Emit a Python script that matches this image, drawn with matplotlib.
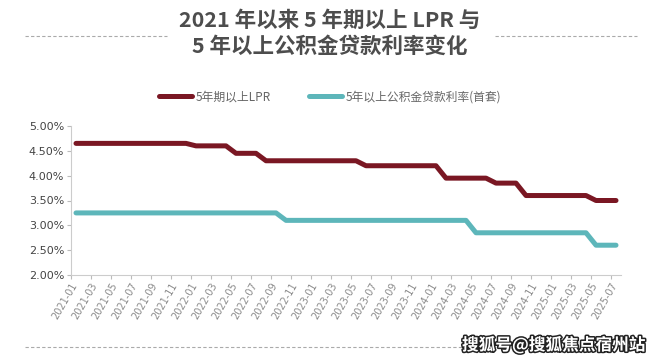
import matplotlib
matplotlib.use("Agg")
import matplotlib.pyplot as plt
import matplotlib.patheffects as pe
from matplotlib.lines import Line2D

plt.rcParams['font.family'] = ['Noto Sans CJK SC', 'DejaVu Sans']

months = [f"{y}-{m:02d}" for y in range(2021, 2026) for m in range(1, 13)][:55]

lpr = ([4.65] * 12 + [4.60] * 4 + [4.45] * 3 + [4.30] * 10 + [4.20] * 8 +
       [3.95] * 5 + [3.85] * 3 + [3.60] * 7 + [3.50] * 3)
hpf = ([3.25] * 21 + [3.10] * 19 + [2.85] * 12 + [2.60] * 3)

yticks = [2.0, 2.5, 3.0, 3.5, 4.0, 4.5, 5.0]
ytick_labels = [f"{v:.2f}%" for v in yticks]
xtick_idx = list(range(0, 55, 2))
xtick_labels = [months[i] for i in xtick_idx]

title_lines = ["2021 年以来 5 年期以上 LPR 与", "5 年以上公积金贷款利率变化"]
series_names = ["5年期以上LPR", "5年以上公积金贷款利率(首套)"]
red = "#7A1723"
teal = "#5DB6BA"

fig = plt.figure(figsize=(6.6, 3.6), dpi=100)
ax = fig.add_axes([71/660, 1-275/360, 550/660, 149/360])

x = [i + 0.5 for i in range(len(months))]
l1, = ax.plot(x, lpr, color=red, lw=3.6, solid_capstyle='round', solid_joinstyle='round')
l2, = ax.plot(x, hpf, color=teal, lw=3.6, solid_capstyle='round', solid_joinstyle='round')

ax.set_xlim(0, 55)
ax.set_ylim(2, 5)
ax.set_yticks(yticks)
ax.set_yticklabels(ytick_labels, fontsize=8, color="#444444", family=['DejaVu Sans'])
ax.set_xticks(xtick_idx)
ax.set_xticklabels(xtick_labels, rotation=60, ha='right', rotation_mode='anchor',
                   fontsize=7, color="#8a8a8a", family=['DejaVu Sans'])
for s in ['top', 'right']:
    ax.spines[s].set_visible(False)
for s in ['left', 'bottom']:
    ax.spines[s].set_color("#cccccc")
    ax.spines[s].set_linewidth(0.8)
ax.tick_params(axis='both', colors="#bbbbbb", length=3, width=0.8)
ax.tick_params(axis='y', labelcolor="#444444", pad=2)
ax.tick_params(axis='x', labelcolor="#8a8a8a", pad=1)

# title
fig.text(0.5, 1-20/360, title_lines[0], ha='center', va='center', fontsize=15.5,
         fontweight='bold', color="#4d4d4d")
fig.text(0.5, 1-46/360, title_lines[1], ha='center', va='center', fontsize=15.5,
         fontweight='bold', color="#4d4d4d")
dash = dict(color="#aaaaaa", lw=0.8, ls=(0, (3, 2)), transform=fig.transFigure)
fig.add_artist(Line2D([25/660, 167/660], [1-36/360]*2, **dash))
fig.add_artist(Line2D([495/660, 637/660], [1-36/360]*2, **dash))
fig.add_artist(Line2D([25/660, 472/660], [1-347/360]*2, **dash))

# legend
fig.legend([l1, l2], series_names, loc='center', bbox_to_anchor=(0.5, 1-97/360),
           ncol=2, frameon=False, fontsize=8.5, handlelength=2.8, columnspacing=3.2,
           handletextpad=0.3, labelcolor="#666666")

# watermark
fig.text(645/660, 1-345/360, "搜狐号@搜狐焦点宿州站", ha='right', va='center',
         fontsize=12, fontweight='bold', color="white",
         path_effects=[pe.withStroke(linewidth=2.2, foreground="#222222")])

fig.savefig("out.png", dpi=100, facecolor="white")
